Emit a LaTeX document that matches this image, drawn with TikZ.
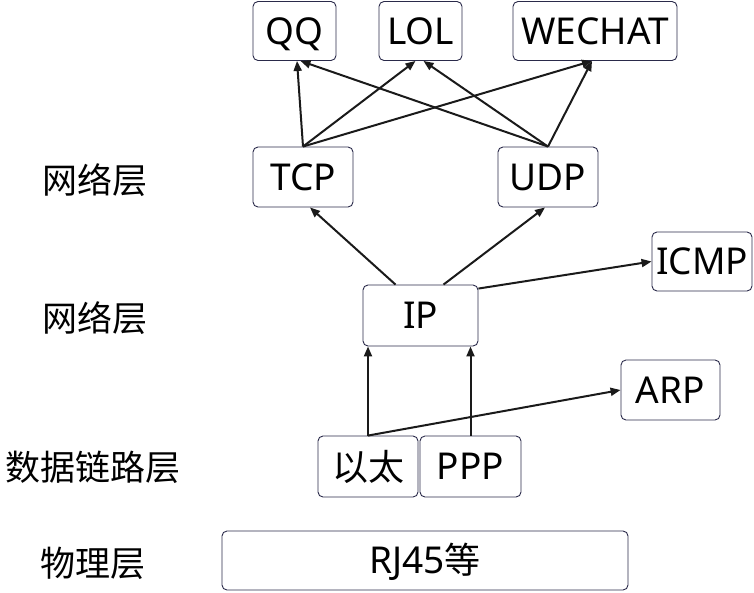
\documentclass[tikz,border=0pt]{standalone}
\usepackage{fontspec}
\setmainfont{Noto Sans}
\newfontfamily\cjk{Noto Sans CJK SC}
\usetikzlibrary{arrows.meta}
\definecolor{boxline}{HTML}{2A2A4A}
\definecolor{arrline}{HTML}{1A1A1A}
\tikzset{
  box/.style={draw=boxline, line width=0.9pt, rounded corners=5pt, inner sep=0pt,
    font=\fontsize{37}{40}\selectfont, text height=26.4pt, text depth=0pt, text=black, anchor=center},
  cjkbox/.style={box, font=\cjk\fontsize{36}{40}\selectfont, text height=28pt, text depth=0.5pt},
  lbl/.style={font=\cjk\fontsize{35}{40}\selectfont, text=black, inner sep=0pt, anchor=center,
    text height=27pt, text depth=0.5pt},
  arr/.style={draw=arrline, line width=2pt, -{Triangle[length=10pt,width=8pt]}}
}
\begin{document}
\begin{tikzpicture}[x=1pt,y=-1pt]
\useasboundingbox (0,0) rectangle (754,592);
% boxes
\node[box, minimum width=83pt, minimum height=59pt] (QQ) at (294.5,31) {QQ};
\node[box, minimum width=83pt, minimum height=59pt] (LOL) at (420.5,31) {LOL};
\node[box, minimum width=164pt, minimum height=59pt] (WECHAT) at (595,31) {WECHAT};
\node[box, minimum width=100pt, minimum height=60pt] (TCP) at (303,177) {TCP};
\node[box, minimum width=100pt, minimum height=60pt] (UDP) at (548,177) {UDP};
\node[box, minimum width=115pt, minimum height=61pt] (IP) at (420.5,315.5) {IP};
\node[box, minimum width=100pt, minimum height=59pt] (ICMP) at (702,261.5) {ICMP};
\node[box, minimum width=99pt, minimum height=60pt] (ARP) at (670.5,390) {ARP};
\node[cjkbox, minimum width=100pt, minimum height=61pt] (eth) at (368,466.5) {以太};
\node[box, minimum width=101pt, minimum height=61pt] (PPP) at (470.5,466.5) {PPP};
\node[box, minimum width=406pt, minimum height=59pt] (RJ) at (425,560.5) {RJ45{\cjk\fontsize{36}{40}\selectfont 等}};
% layer labels
\node[lbl] (L1) at (95,180) {网络层};
\node[lbl] (L2) at (95,318) {网络层};
\node[lbl] (L3) at (93,467) {数据链路层};
\node[lbl] (L4) at (93,563) {物理层};
% arrows
\draw[arr] (TCP.north) -- ([xshift=2.5pt]QQ.south);
\draw[arr] (TCP.north) -- ([xshift=-5pt]LOL.south);
\draw[arr] (TCP.north) -- ([xshift=-3pt]WECHAT.south);
\draw[arr] (UDP.north) -- ([xshift=6pt]QQ.south);
\draw[arr] (UDP.north) -- ([xshift=3pt]LOL.south);
\draw[arr] (UDP.north) -- ([xshift=-3pt]WECHAT.south);
\draw[arr] ([xshift=-25pt]IP.north) -- ([xshift=7pt]TCP.south);
\draw[arr] ([xshift=23pt]IP.north) -- ([xshift=-3pt]UDP.south);
\draw[arr] ([yshift=-4pt]IP.north east) -- (ICMP.west);
\draw[arr] (eth.north) -- (eth.north |- IP.south);
\draw[arr] (PPP.north) -- (PPP.north |- IP.south);
\draw[arr] (eth.north) -- (ARP.west);
\end{tikzpicture}
\end{document}
